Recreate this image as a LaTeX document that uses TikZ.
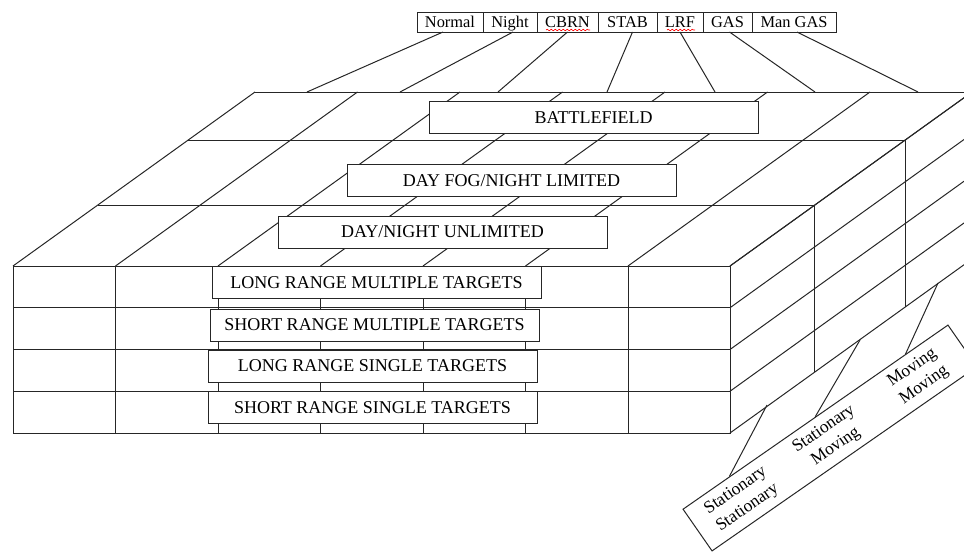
\documentclass[tikz,border=0pt]{standalone}
\usepackage{fontspec}
\setmainfont{Liberation Serif}
\usetikzlibrary{positioning,calc,decorations.pathmorphing}
\tikzset{
  linie/.style={draw=black!85, line width=0.5pt},
  ebene/.style={linie, fill=white, minimum width=164.5pt, minimum height=16pt, inner sep=0pt, font=\fontsize{9}{11}\selectfont},
  kopf/.style={linie, fill=white, minimum height=10pt, inner sep=0pt, outer sep=0pt, text height=1.6ex, text depth=0.3ex, font=\fontsize{8.2}{10}\selectfont},
  lage/.style={font=\fontsize{8.7}{10.5}\selectfont, align=center, rotate=34.8, inner sep=0pt}
}
\begin{document}
\begin{tikzpicture}[x=0.5pt,y=-0.5pt]
\useasboundingbox (0,0) rectangle (964,552);
\clip (0,0) rectangle (964,552);
% Vorderseite:
\draw[linie] (13,266) rectangle (730,433);
\foreach \y in {307.75,349.5,391.25} \draw[linie] (13,\y) -- (730,\y);
\foreach \x in {115.5,218,320.5,423,525.5,628} \draw[linie] (\x,266) -- (\x,433);
% Oberseite:
\foreach \x in {13,115.5,218,320.5,423,525.5,628,730} \draw[linie] (\x,266) -- ++(242,-174);
\draw[linie] (97.8,205) -- (814.8,205) -- (814.8,372);
\draw[linie] (188.2,140) -- (905.2,140) -- (905.2,307);
\draw[linie] (255,92) -- (972,92) -- (972,259);
% Rechte Seite:
\foreach \y in {266,307.75,349.5,391.25,433} \draw[linie] (730,\y) -- ++(242,-174);
% Stufen oben und vorne:
\node[ebene] (bf) at (593.5,117.5) {BATTLEFIELD};
\node[ebene] (dfn) at (511.5,180.5) {DAY FOG/NIGHT LIMITED};
\node[ebene] (dnu) at (442.5,232) {DAY/NIGHT UNLIMITED};
\node[ebene] (lrm) at (376.5,282.5) {LONG RANGE MULTIPLE TARGETS};
\node[ebene] (srm) at (374.5,325) {SHORT RANGE MULTIPLE TARGETS};
\node[ebene] (lrs) at (372.5,366) {LONG RANGE SINGLE TARGETS};
\node[ebene] (srs) at (372.5,407.5) {SHORT RANGE SINGLE TARGETS};
% Kopfzeile:
\node[kopf, minimum width=33pt, anchor=west] (normal) at (417,22) {Normal};
\node[kopf, minimum width=27pt, right=0pt of normal] (night) {Night};
\node[kopf, minimum width=30.5pt, right=0pt of night] (cbrn) {CBRN};
\node[kopf, minimum width=29.5pt, right=0pt of cbrn] (stab) {STAB};
\node[kopf, minimum width=23pt, right=0pt of stab] (lrf) {LRF};
\node[kopf, minimum width=24.5pt, right=0pt of lrf] (gas) {GAS};
\node[kopf, minimum width=42pt, right=0pt of gas] (mangas) {Man GAS};
% Rechtschreibmarken:
\draw[red, line width=0.3pt, decorate, decoration={snake, amplitude=0.4pt, segment length=2pt}] (546,30) -- (590,30);
\draw[red, line width=0.3pt, decorate, decoration={snake, amplitude=0.4pt, segment length=2pt}] (667,30) -- (695,30);
% Linien zur Hinterkante:
\coordinate (h1) at (307,92);
\coordinate (h2) at (400,92);
\coordinate (h3) at (498,92);
\coordinate (h4) at (607,92);
\coordinate (h5) at (715,92);
\coordinate (h6) at (815,92);
\coordinate (h7) at (918,92);
\draw[linie] ([xshift=-3.5pt]normal.south) -- (h1);
\draw[linie] ([xshift=1.5pt]night.south) -- (h2);
\draw[linie] (cbrn.south) -- (h3);
\draw[linie] ([xshift=2.5pt]stab.south) -- (h4);
\draw[linie] (lrf.south) -- (h5);
\draw[linie] ([xshift=1pt]gas.south) -- (h6);
\draw[linie] ([xshift=1.5pt]mangas.south) -- (h7);
% Bewegung:
\node[linie, rotate=34.8, minimum width=161.3pt, minimum height=25.4pt, inner sep=0pt] (motion) at (830,438) {};
\node[lage] (ss) at (741.7,499.4) {Stationary\\Stationary};
\node[lage] (sm) at (830,438) {Stationary\\Moving};
\node[lage] (mm) at (918.3,376.6) {Moving\\Moving};
\coordinate (m1) at (767,405);
\coordinate (m2) at (860,340);
\coordinate (m3) at (938,283);
\draw[linie] ($(motion.north west)!0.177!(motion.north east)$) -- (m1);
\draw[linie] ($(motion.north west)!0.5!(motion.north east)$) -- (m2);
\draw[linie] ($(motion.north west)!0.84!(motion.north east)$) -- (m3);
\end{tikzpicture}
\end{document}
